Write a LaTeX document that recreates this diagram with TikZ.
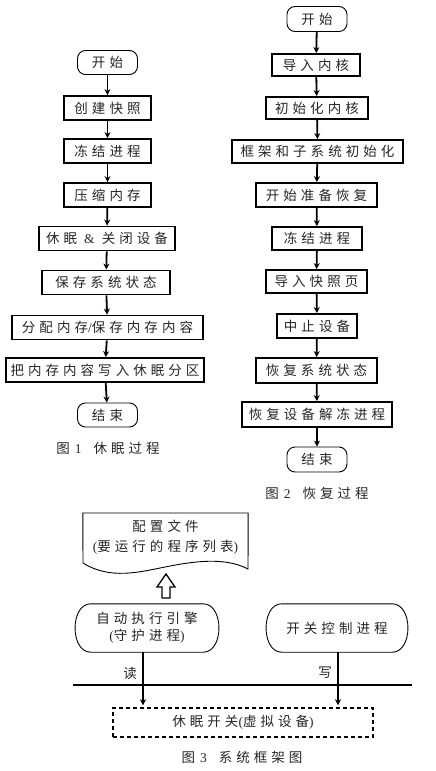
\documentclass[tikz,border=0pt]{standalone}
\usepackage{fontspec}
\setmainfont{Liberation Serif}
\newfontfamily\cjk[LetterSpace=30]{Noto Sans CJK SC}
\usetikzlibrary{arrows.meta}
\tikzset{
  txt/.style={font=\cjk\fontsize{13.5}{17}\selectfont, text=black!85},
  procbox/.style={txt, draw=black, line width=1.8pt, minimum height=24pt, inner sep=0pt},
  term/.style={txt, draw=black, line width=0.9pt, rounded corners=8pt, minimum height=24pt, minimum width=60pt, inner sep=0pt},
  arr/.style={line width=1.8pt, -{Stealth[length=6pt,width=6pt]}},
  outl/.style={line width=0.9pt},
}
\newcommand{\capnum}[1]{\hspace{5pt}{\rmfamily\fontsize{13.5}{17}\selectfont #1}\hspace{12pt}}
\begin{document}
\begin{tikzpicture}[x=1pt,y=-1pt]
\useasboundingbox (0,0) rectangle (436,771);
% ---------- Figure 1 ----------
\node[term] (s1) at (107.5,62.5) {开始};
\node[procbox, minimum width=87pt] (a1) at (107.5,108) {创建快照};
\node[procbox, minimum width=87pt] (a2) at (107.5,151) {冻结进程};
\node[procbox, minimum width=87pt] (a3) at (107.5,195) {压缩内存};
\node[procbox, minimum width=136pt] (a4) at (107,238.5) {休眠 {\rmfamily\&} 关闭设备};
\node[procbox, minimum width=128pt] (a5) at (106,282.5) {保存系统状态};
\node[procbox, minimum width=191pt] (a6) at (107.5,327.5) {分配内存{\rmfamily /}保存内存内容};
\node[procbox, minimum width=198pt] (a7) at (105,370) {把内存内容写入休眠分区};
\node[term] (e1) at (107.5,415) {结束};
\node[txt] (cap1) at (108,448) {图\capnum{1}休眠过程};
\foreach \u/\v in {s1/a1,a1/a2,a2/a3,a3/a4,a4/a5,a5/a6,a6/a7,a7/e1}
  \draw[arr] (\u) -- (\v);
% ---------- Figure 2 ----------
\node[term, minimum height=25pt] (s2) at (317,19) {开始};
\node[procbox, minimum width=88pt, minimum height=22pt] (b1) at (316,65) {导入内核};
\node[procbox, minimum width=102pt, minimum height=22pt] (b2) at (317,108) {初始化内核};
\node[procbox, minimum width=171pt, minimum height=23pt] (b3) at (317.5,151.5) {框架和子系统初始化};
\node[procbox, minimum width=121pt] (b4) at (316.5,195) {开始准备恢复};
\node[procbox, minimum width=90pt, minimum height=23pt] (b5) at (317,238.5) {冻结进程};
\node[procbox, minimum width=101pt, minimum height=23pt] (b6) at (316.5,281.5) {导入快照页};
\node[procbox, minimum width=80pt] (b7) at (317,326) {中止设备};
\node[procbox, minimum width=121pt, minimum height=25pt] (b8) at (316.5,370.5) {恢复系统状态};
\node[procbox, minimum width=150pt, minimum height=25pt] (b9) at (317,414.5) {恢复设备解冻进程};
\node[term, minimum height=25pt] (e2) at (317,459.5) {结束};
\node[txt] (cap2) at (317,493) {图\capnum{2}恢复过程};
\foreach \u/\v in {s2/b1,b1/b2,b2/b3,b3/b4,b4/b5,b5/b6,b6/b7,b7/b8,b8/b9,b9/e2}
  \draw[arr] (\u) -- (\v);
% ---------- Figure 3 ----------
\node[txt, align=center, inner sep=0pt, minimum width=165pt, minimum height=50pt] (cfg) at (165.5,537)
  {配置文件\\[3pt]{\rmfamily(}要运行的程序列表{\rmfamily)}};
\draw[outl] (cfg.north west |- 0,513) -- (cfg.north east |- 0,513) -- (248,569)
  .. controls (225,557) and (195,561) .. (165,567)
  .. controls (140,572) and (110,580) .. (83,563) -- cycle;
\node[txt, align=center, inner sep=0pt, minimum width=144pt, minimum height=48pt] (auto) at (147,628)
  {自动执行引擎\\{\rmfamily(}守护进程{\rmfamily)}};
\node[txt, inner sep=0pt, minimum width=142pt, minimum height=48pt] (ctrl) at (337,628) {开关控制进程};
\foreach \n in {auto,ctrl}{
  \draw[outl] ([xshift=16pt]\n.north west) -- ([xshift=-16pt]\n.north east)
    .. controls ([xshift=5pt]\n.north east) and ([xshift=5pt]\n.south east) .. ([xshift=-16pt]\n.south east)
    -- ([xshift=16pt]\n.south west)
    .. controls ([xshift=-5pt]\n.south west) and ([xshift=-5pt]\n.north west) .. cycle;
}
% hollow arrow from engine to config file
\draw[line width=1.3pt, line join=miter] (166,574) -- (175,587) -- (170,587) -- (170,598) -- (162,598) -- (162,587) -- (157,587) -- cycle;
\node[txt, draw=black, dash pattern=on 4pt off 3pt, line width=1.5pt, minimum width=260pt, minimum height=29pt, inner sep=0pt] (sw) at (243,722.5)
  {休眠开关{\rmfamily(}虚拟设备{\rmfamily)}};
\coordinate (busL) at (73,685);
\coordinate (busR) at (412,685);
\coordinate (rx) at (143,685);
\coordinate (wx) at (338,685);
\draw[line width=1.8pt] (busL) -- (busR);
\draw[arr, line width=1.6pt, shorten >=2pt] (auto.south -| rx) -- (sw.north -| rx);
\draw[arr, line width=1.6pt, shorten >=2pt] (ctrl.south -| wx) -- (sw.north -| wx);
\node[txt] (rd) at (130,673) {读};
\node[txt] (wr) at (325,673) {写};
\node[txt] (cap3) at (242,757) {图\capnum{3}系统框架图};
\end{tikzpicture}
\end{document}
